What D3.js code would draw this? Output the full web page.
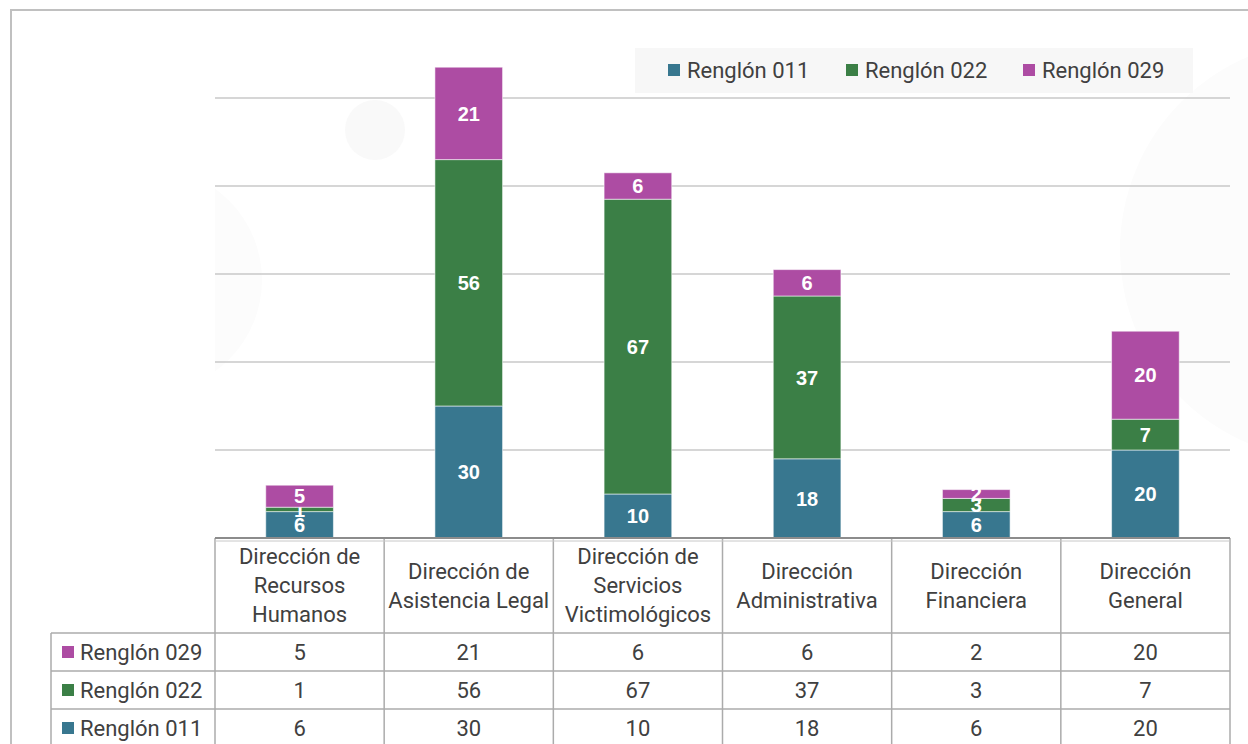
<!DOCTYPE html>
<html>
<head>
<meta charset="utf-8">
<script src="https://cdn.jsdelivr.net/npm/d3@7"></script>
<style>
  body { margin: 0; background: #fff; }
  svg { display: block; font-family: Roboto, "Noto Sans", sans-serif; }
</style>
</head>
<body>
<div class="container"></div>
<script>
const categories = [
  "Dirección de\nRecursos\nHumanos",
  "Dirección de\nAsistencia Legal",
  "Dirección de\nServicios\nVictimológicos",
  "Dirección\nAdministrativa",
  "Dirección\nFinanciera",
  "Dirección\nGeneral"
];
const seriesNames = ["Renglón 011", "Renglón 022", "Renglón 029"];
const r011 = [6, 30, 10, 18, 6, 20];
const r022 = [1, 56, 67, 37, 3, 7];
const r029 = [5, 21, 6, 6, 2, 20];
const gridTicks = [20, 40, 60, 80, 100];

const colors = ["#38778f", "#3b7f46", "#ad4ca3"];
const seriesValues = [r011, r022, r029];

const width = 1248, height = 744;
const left = 215, right = 1230, base = 538;
const textColor = "#404040";
const fs = 22;

const svg = d3.select(".container").append("svg")
  .attr("width", width).attr("height", height);

// frame
svg.append("rect")
  .attr("x", 11).attr("y", 10).attr("width", 1260).attr("height", 760)
  .attr("fill", "#fff").attr("stroke", "#c0c0c0").attr("stroke-width", 2);

// faint decorative circles
svg.append("clipPath").attr("id", "plotclip")
  .append("rect").attr("x", left).attr("y", 12).attr("width", 1040).attr("height", base - 12);
const deco = svg.append("g").attr("clip-path", "url(#plotclip)");
deco.append("circle").attr("cx", 375).attr("cy", 130).attr("r", 30).attr("fill", "#f9f9f9");
deco.append("circle").attr("cx", 150).attr("cy", 280).attr("r", 112).attr("fill", "#fcfcfc");
svg.append("circle").attr("cx", 1330).attr("cy", 250).attr("r", 210).attr("fill", "#fcfcfc");

const x = d3.scaleBand().domain(d3.range(categories.length)).range([left, right]).paddingInner(0).paddingOuter(0);
const y = d3.scaleLinear().domain([0, 120]).range([base, 10]);

// gridlines
svg.append("g").selectAll("line").data(gridTicks).join("line")
  .attr("x1", left).attr("x2", right)
  .attr("y1", d => y(d)).attr("y2", d => y(d))
  .attr("stroke", "#c8c8c8").attr("stroke-width", 1.5);

// stacked data
const rows = categories.map((c, i) => ({ i, s0: r011[i], s1: r022[i], s2: r029[i] }));
const stack = d3.stack().keys(["s0", "s1", "s2"])(rows);

const barW = x.bandwidth() * 0.4;
const layers = svg.append("g").selectAll("g").data(stack).join("g")
  .attr("fill", (d, k) => colors[k]);

layers.selectAll("rect").data(d => d).join("rect")
  .attr("x", d => x(d.data.i) + (x.bandwidth() - barW) / 2)
  .attr("width", barW)
  .attr("y", d => y(d[1]))
  .attr("height", d => y(d[0]) - y(d[1]))
  .attr("stroke", "#ffffff").attr("stroke-opacity", 0.55).attr("stroke-width", 1);

layers.selectAll("text").data(d => d).join("text")
  .attr("x", d => x(d.data.i) + x.bandwidth() / 2)
  .attr("y", d => (y(d[0]) + y(d[1])) / 2)
  .attr("dy", "0.36em")
  .attr("text-anchor", "middle")
  .attr("fill", "#fff").attr("font-weight", "bold").attr("font-size", 20)
  .attr("font-family", "'Liberation Sans', Arial, sans-serif")
  .text(d => d[1] - d[0]);

// legend
const lg = svg.append("g");
lg.append("rect").attr("x", 635).attr("y", 48).attr("width", 558).attr("height", 45).attr("fill", "#f7f7f7");
const legendX = [668, 846, 1023];
seriesNames.forEach((name, k) => {
  lg.append("rect").attr("x", legendX[k]).attr("y", 64).attr("width", 12).attr("height", 12).attr("fill", colors[k]);
  lg.append("text").attr("x", legendX[k] + 19).attr("y", 70).attr("dy", "0.35em")
    .attr("font-size", fs).attr("fill", textColor).text(name);
});

// data table
const headerBottom = 633, rowH = 38;
const tableRows = [2, 1, 0]; // 029, 022, 011
const tbl = svg.append("g");
const lineColor = "#ababab";

x.domain().forEach(i => {
  tbl.append("line").attr("x1", x(i)).attr("x2", x(i)).attr("y1", base).attr("y2", height + 5)
    .attr("stroke", lineColor).attr("stroke-width", 1.5);
});
tbl.append("line").attr("x1", right).attr("x2", right).attr("y1", base).attr("y2", height + 5)
  .attr("stroke", lineColor).attr("stroke-width", 1.5);
tbl.append("line").attr("x1", 51).attr("x2", 51).attr("y1", headerBottom).attr("y2", height + 5)
  .attr("stroke", lineColor).attr("stroke-width", 1.5);
[0, 1, 2, 3].forEach(r => {
  tbl.append("line").attr("x1", 51).attr("x2", right).attr("y1", headerBottom + r * rowH).attr("y2", headerBottom + r * rowH)
    .attr("stroke", lineColor).attr("stroke-width", 1.5);
});
// axis baseline
tbl.append("line").attr("x1", left).attr("x2", right).attr("y1", base).attr("y2", base)
  .attr("stroke", "#8c8c8c").attr("stroke-width", 2);
tbl.append("line").attr("x1", left).attr("x2", right).attr("y1", base + 3).attr("y2", base + 3)
  .attr("stroke", "#c8c8c8").attr("stroke-width", 1);

// header labels
categories.forEach((c, i) => {
  const lines = c.split("\n");
  const lh = 29;
  const cy = (base + headerBottom) / 2;
  const t = tbl.append("text").attr("text-anchor", "middle").attr("font-size", fs).attr("fill", textColor);
  lines.forEach((ln, j) => {
    t.append("tspan").attr("x", x(i) + x.bandwidth() / 2)
      .attr("y", cy + (j - (lines.length - 1) / 2) * lh).attr("dy", "0.35em").text(ln);
  });
});

// value rows
tableRows.forEach((k, r) => {
  const cy = headerBottom + r * rowH + rowH / 2;
  tbl.append("rect").attr("x", 62).attr("y", cy - 6).attr("width", 12).attr("height", 12).attr("fill", colors[k]);
  tbl.append("text").attr("x", 80).attr("y", cy).attr("dy", "0.35em")
    .attr("font-size", fs).attr("fill", textColor).text(seriesNames[k]);
  seriesValues[k].forEach((v, i) => {
    tbl.append("text").attr("x", x(i) + x.bandwidth() / 2).attr("y", cy).attr("dy", "0.35em")
      .attr("text-anchor", "middle").attr("font-size", fs).attr("fill", textColor).text(v);
  });
});
</script>
</body>
</html>
